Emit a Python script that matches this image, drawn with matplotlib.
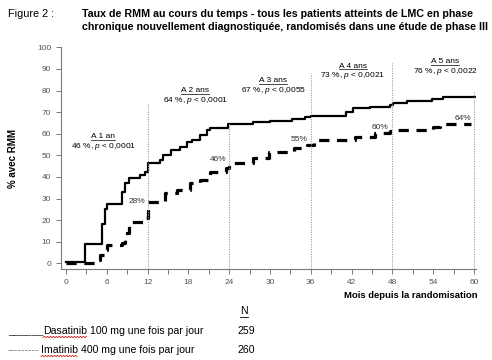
import matplotlib
matplotlib.use("Agg")
import matplotlib.pyplot as plt
from matplotlib.lines import Line2D
import numpy as np

plt.rcParams["font.family"] = ["Liberation Sans", "DejaVu Sans"]
plt.rcParams["mathtext.fontset"] = "custom"
plt.rcParams["mathtext.it"] = "Liberation Sans:italic"
plt.rcParams["mathtext.rm"] = "Liberation Sans"

# Dasatinib (solid), step curve: month, % with MMR
dasa_t = [0, 2.8, 5.3, 5.7, 6.0, 8.2, 8.6, 9.2, 10.9, 11.6, 12.0, 13.8, 14.3,
          15.5, 16.8, 17.8, 18.5, 19.7, 20.7, 21.2, 23.8, 27.5, 30.0, 33.2,
          35.1, 36.1, 41.2, 42.2, 44.7, 47.6, 48.1, 50.1, 53.8, 55.5, 60.3]
dasa_v = [0.5, 9, 18, 25, 27.5, 33, 37, 39.5, 41, 42.5, 46.5, 48, 50,
          52.5, 54, 56, 57, 59.5, 61.5, 62.5, 64.3, 65.3, 66, 66.8,
          67.6, 68.2, 70.2, 71.7, 72.5, 73.3, 74.4, 75.1, 76, 76.8, 76.8]

# Imatinib (dashed)
ima_t = [0, 4.5, 5.0, 5.6, 6.0, 8.2, 8.6, 9.2, 11.3, 12.0, 14.6, 16.3, 18.2,
         19.7, 21.2, 23.6, 24.0, 27.5, 29.8, 33.5, 35.5, 36.5, 42.5, 45.5,
         47.6, 48.1, 54.0, 55.0, 59.5]
ima_v = [0.4, 1.5, 4, 6, 8.5, 9.5, 14, 19.3, 20.8, 28.5, 32.4, 34, 37,
         38.5, 42.4, 44, 46.6, 48.6, 51.4, 53.2, 54.8, 57, 58.6, 60.2,
         61.4, 61.7, 63.2, 64.3, 64.3]

# yearly reference lines and their heights
year_x = [12, 24, 36, 48, 60]
year_top = [74, 65, 88, 92.6, 79.5]

# yearly annotations (header, result, position)
ann_head = ["A 1 an", "A 2 ans", "A 3 ans", "A 4 ans", "A 5 ans"]
ann_text = ["46 %, $p$ < 0,0001", "64 %, $p$ < 0,0001", "67 %, $p$ < 0,0055",
            "73 %, $p$ < 0,0021", "76 %, $p$ < 0,0022"]
ann_x = [5.5, 19.0, 30.5, 42.2, 55.8]
ann_y = [58.6, 80.0, 84.5, 91.3, 93.3]

# imatinib % labels
pct_lab = ["28%", "46%", "55%", "60%", "64%"]
pct_x = [10.4, 22.4, 34.3, 46.2, 58.4]
pct_y = [28.5, 48.3, 57.4, 63.0, 67.0]

W, H = 492, 360
fig = plt.figure(figsize=(W / 100, H / 100), dpi=100)
ax = fig.add_axes([61 / W, 1 - 269 / H, (476 - 61) / W, (269 - 47.3) / H])

ax.step(dasa_t, dasa_v, where="post", color="black", lw=1.6)
ax.step(ima_t, ima_v, where="post", color="black", lw=2.3,
        dashes=(3.2, 2.4))

for xv, top in zip(year_x, year_top):
    ax.plot([xv, xv], [-2.6, top], color="#9a9a9a", lw=0.8, ls=(0, (1, 1.2)))

for h, t, x, y in zip(ann_head, ann_text, ann_x, ann_y):
    ax.text(x, y, h, ha="center", va="center", fontsize=6)
    ax.text(x, y - 4.5, t, ha="center", va="center", fontsize=6)

for lab, x, y in zip(pct_lab, pct_x, pct_y):
    ax.text(x, y, lab, ha="center", va="center", fontsize=6, color="#333333")

ax.set_xlim(-0.74, 60.3)
ax.set_ylim(-2.6, 100)
ax.set_xticks(np.arange(0, 61, 6))
ax.set_xticks(np.arange(3, 61, 6), minor=True)
ax.set_yticks(np.arange(0, 101, 10))
for s in ["top", "right"]:
    ax.spines[s].set_visible(False)
for s in ["left", "bottom"]:
    ax.spines[s].set_color("#7a7a7a")
    ax.spines[s].set_linewidth(0.8)
ax.tick_params(which="both", length=3.5, width=0.7, color="#7a7a7a",
               labelsize=6, labelcolor="#555555", pad=3.5)

ax.set_ylabel("% avec RMM", fontsize=7, fontweight="bold")
ax.yaxis.set_label_coords(-(61 - 18) / (476 - 61), 0.5)

def fx(px):
    return px / W

def fy(py):
    return 1 - py / H

fig.text(fx(478), fy(295), "Mois depuis la randomisation", ha="right",
         va="center", fontsize=6.8, fontweight="bold")

fig.text(fx(8), fy(14), "Figure 2 :", ha="left", va="center", fontsize=7.8)
fig.text(fx(82), fy(14), "Taux de RMM au cours du temps - tous les patients "
         "atteints de LMC en phase", ha="left", va="center", fontsize=7.65,
         fontweight="bold")
fig.text(fx(82), fy(27), "chronique nouvellement diagnostiquée, randomisés "
         "dans une étude de phase III", ha="left", va="center", fontsize=7.65,
         fontweight="bold")

n_txt = fig.text(fx(244), fy(311), "N", ha="center", va="center", fontsize=7.6)
fig.text(fx(8), fy(331), "______", ha="left", va="center", fontsize=7.6,
         color="#333333")
d_txt = fig.text(fx(43), fy(331), "Dasatinib", ha="left", va="center",
                 fontsize=7.6)
fig.text(fx(237), fy(331), "259", ha="left", va="center", fontsize=7.6)
fig.text(fx(8), fy(350), "---------", ha="left", va="center", fontsize=7.6,
         color="#777777")
i_txt = fig.text(fx(41), fy(350), "Imatinib", ha="left", va="center",
                 fontsize=7.6)
fig.text(fx(237), fy(350), "260", ha="left", va="center", fontsize=7.6)

# draw once to measure text, then add the rest and underlines
fig.canvas.draw()
r = fig.canvas.get_renderer()
sp = r.points_to_pixels(7.6 * 0.28)
for t in (d_txt, i_txt):
    bb = t.get_window_extent(r)
    fig.text(bb.x1 / W + sp / W, t.get_position()[1],
             "100 mg une fois par jour" if t is d_txt else
             "400 mg une fois par jour",
             ha="left", va="center", fontsize=7.6)
    xs = np.arange(bb.x0, bb.x1 + 0.1, 1.5)
    ys = bb.y0 - 1 + 0.7 * ((np.arange(len(xs)) % 2) * 2 - 1)
    fig.add_artist(Line2D(xs / W, ys / H, color="#d02020", lw=0.6))

bb = n_txt.get_window_extent(r)
fig.add_artist(Line2D([bb.x0 / W, bb.x1 / W], [(bb.y0 - 0.5) / H] * 2,
                      color="black", lw=0.6))

for t in ax.texts:
    if t.get_text() in ann_head:
        bb = t.get_window_extent(r)
        fig.add_artist(Line2D([bb.x0 / W, bb.x1 / W], [(bb.y0 + 0.3) / H] * 2,
                              color="black", lw=0.5))

fig.savefig("out.png", dpi=100)
